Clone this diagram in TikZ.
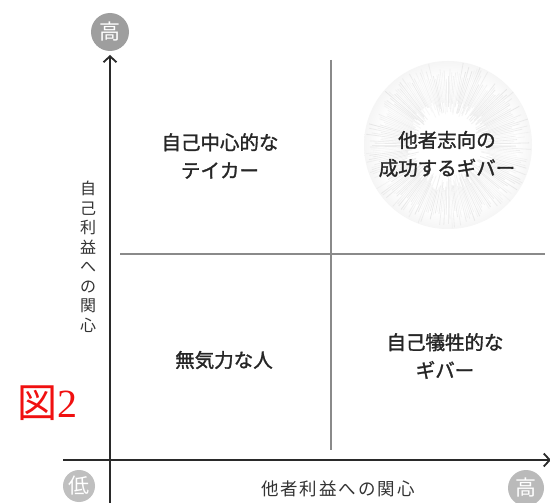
\documentclass[tikz,border=0pt]{standalone}
\usepackage{fontspec}
\newfontfamily\jpgothic{Noto Sans CJK JP}
\newfontfamily\jpbold{Noto Sans CJK JP}[FakeBold=1.5]
\usetikzlibrary{arrows.meta,calc}
\definecolor{axisgray}{HTML}{2A2A2A}
\definecolor{gridgray}{HTML}{8A8A8A}
\definecolor{figred}{HTML}{F01010}
\pgfdeclareradialshading{glowring}{\pgfpoint{0bp}{0bp}}{%
  color(0bp)=(white); color(20bp)=(white); color(34bp)=(black!11);
  color(44bp)=(black!5); color(50bp)=(white)}
\tikzset{
  axisline/.style={draw=axisgray, line width=1.8pt},
  gridline/.style={draw=gridgray, line width=1.3pt},
  cell/.style={font=\jpbold\fontsize{19.5}{28}\selectfont, text=black!85, align=center, inner sep=0pt},
  axislabel/.style={font=\jpgothic\fontsize{16}{19.5}\selectfont, text=black!80, align=center, inner sep=0pt},
  badge/.style={circle, inner sep=0pt, text=white, font=\jpgothic\fontsize{21}{21}\selectfont},
  barb/.style={-{Straight Barb[length=6pt,width=13pt,line width=1.8pt]}}
}
\begin{document}
\begin{tikzpicture}[x=1pt,y=-1pt]
  \useasboundingbox (0,0) rectangle (550,503);
  \fill[white] (0,0) rectangle (550,503);

  % soft radial glow behind the upper-right quadrant
  \coordinate (glow) at (448,145);
  \shade[shading=glowring] (glow) circle[radius=84];
  \pgfmathsetseed{7}
  \foreach \a in {0,1.5,...,358.5}{
    \pgfmathsetmacro{\ri}{30+16*rnd}
    \pgfmathsetmacro{\ro}{66+18*rnd}
    \pgfmathsetmacro{\op}{0.10+0.22*rnd}
    \draw[gray!50, line width=0.8pt, opacity=\op] ($(glow)+(\a:\ri)$) -- ($(glow)+(\a:\ro)$);
  }

  % quadrant dividers
  \coordinate (vtop) at (331,60);
  \coordinate (vbot) at (331,450);
  \coordinate (hleft) at (120,254);
  \coordinate (hright) at (545,254);
  \draw[gridline] (vtop) -- (vbot);
  \draw[gridline] (hleft) -- (hright);

  % axes
  \coordinate (ybot) at (110,503);
  \coordinate (ytop) at (110,55);
  \coordinate (xleft) at (63,460);
  \coordinate (xright) at (551,460);
  \draw[axisline, barb] (ybot) -- (ytop);
  \draw[axisline, barb] (xleft) -- (xright);

  % scale badges
  \node[badge, fill=black!38, minimum size=38pt] (hiY) at (110,32) {高};
  \node[badge, fill=black!25, minimum size=32pt] (lo) at (79,486) {低};
  \node[badge, fill=black!27, minimum size=36pt] (hiX) at (526,488) {高};

  % quadrant labels
  \node[cell] (q1) at (220,156) {自己中心的な\\テイカー};
  \node[cell] (q2) at (447,154) {他者志向の\\成功するギバー};
  \node[cell] (q3) at (224,360) {無気力な人};
  \node[cell] (q4) at (445,356) {自己犠牲的な\\ギバー};

  % axis titles
  \node[axislabel] (ylab) at (88,257) {自\\己\\利\\益\\へ\\の\\関\\心};
  \node[axislabel, font=\jpgothic\fontsize{17.5}{19.5}\selectfont] (xlab) at (338,489) {他\kern2pt 者\kern2pt 利\kern2pt 益\kern2pt へ\kern2pt の\kern2pt 関\kern2pt 心};

  % figure number
  \node[inner sep=0pt, text=figred, font=\jpgothic\fontsize{40}{40}\selectfont] (fig) at (47,403) {図\fontspec{Liberation Serif}2};
\end{tikzpicture}
\end{document}
